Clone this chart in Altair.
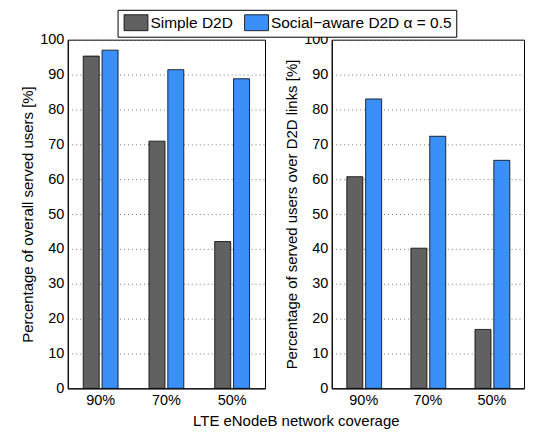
import altair as alt
import pandas as pd

categories = ["90%", "70%", "50%"]
series = ["Simple D2D", "Social\u2212aware D2D \u03b1 = 0.5"]
simple_overall = [95.3, 70.9, 42.1]
social_overall = [97.0, 91.4, 88.8]
simple_d2d = [60.7, 40.2, 16.9]
social_d2d = [83.0, 72.3, 65.4]
colors = ["#616161", "#3a8ff8"]
y_ticks = [0, 10, 20, 30, 40, 50, 60, 70, 80, 90, 100]

def frame(a, b):
    rows = []
    for c, va, vb in zip(categories, a, b):
        rows.append({"cov": c, "series": series[0], "val": va})
        rows.append({"cov": c, "series": series[1], "val": vb})
    return pd.DataFrame(rows)

FONT = "Liberation Sans"

def panel(df, ytitle, w):
    xaxis = alt.Axis(title=None, labelAngle=0, ticks=False,
                     labelFontSize=14.5, labelPadding=5,
                     domainColor="black", labelColor="black")
    return alt.Chart(df).mark_bar(stroke="black", strokeWidth=0.8).encode(
        x=alt.X("cov:N", sort=categories,
                scale=alt.Scale(paddingInner=0.47, paddingOuter=0.235),
                axis=xaxis),
        xOffset=alt.XOffset("series:N", sort=series,
                            scale=alt.Scale(paddingInner=0.15, paddingOuter=0)),
        y=alt.Y("val:Q", scale=alt.Scale(domain=[0, 100], nice=False),
                axis=alt.Axis(title=ytitle, values=y_ticks, ticks=False,
                              labelFontSize=14.5, labelPadding=4, titleFontSize=15,
                              titleFontWeight="normal", titlePadding=4,
                              grid=True, gridDash=[1, 3], gridColor="#777",
                              domainColor="black", labelColor="black", titleColor="black")),
        color=alt.Color("series:N", sort=series,
                        scale=alt.Scale(domain=series, range=colors),
                        legend=alt.Legend(title=None, orient="none", legendX=50, legendY=-30,
                                          direction="horizontal", columns=2,
                                          symbolType="M-0.75,-1L2.25,-1L2.25,1L-0.75,1Z",
                                          symbolSize=256, symbolStrokeColor="black",
                                          symbolStrokeWidth=0.8, symbolOpacity=1,
                                          labelOffset=12, columnPadding=9,
                                          labelFontSize=15.5, labelLimit=400, labelColor="black",
                                          strokeColor="black", padding=4, fillColor="white")),
    ).properties(width=w, height=350)

left = panel(frame(simple_overall, social_overall),
             "Percentage of overall served users [%]", 198)
right = panel(frame(simple_d2d, social_d2d),
              "Percentage of served users over D2D links [%]", 193)

chart = alt.hconcat(left, right, spacing=18).resolve_scale(
    color="shared", x="independent", y="independent"
).properties(
    title=alt.TitleParams("LTE eNodeB network coverage", orient="bottom", anchor="middle",
                          fontSize=15, fontWeight="normal", color="black", offset=7, dx=24),
    padding={"left": 12, "top": 0, "right": 0, "bottom": 0}
).configure(font=FONT).configure_view(stroke="black", strokeWidth=1)

chart.save("out.html", embed_options={"renderer": "svg", "actions": False})
